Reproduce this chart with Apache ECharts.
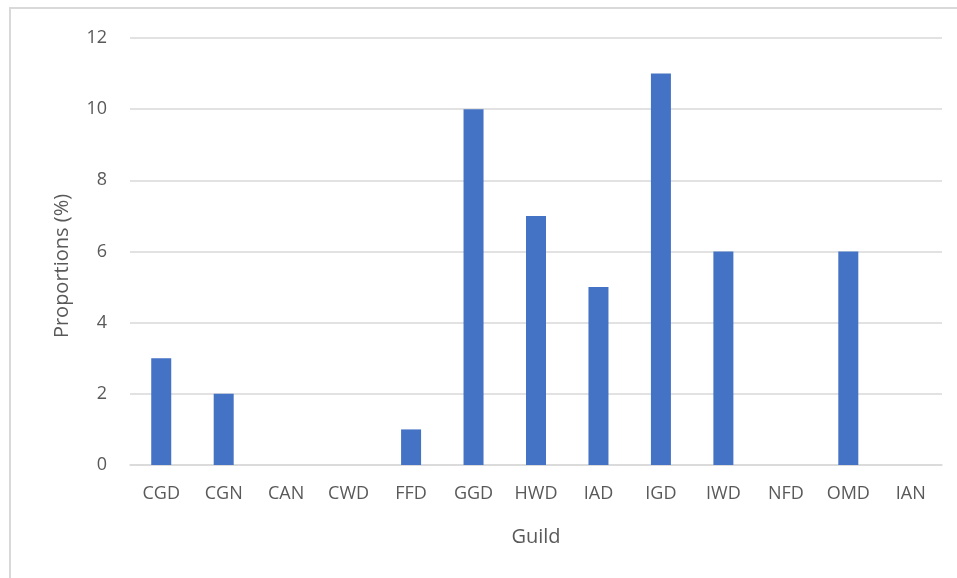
<!DOCTYPE html>
<html>
<head>
<meta charset="utf-8">
<script src="https://cdn.jsdelivr.net/npm/echarts@6/dist/echarts.min.js"></script>
<style>
  html, body { margin: 0; padding: 0; background: #fff; }
  #chart { width: 957px; height: 578px; }
</style>
</head>
<body>
<div id="chart"></div>
<script>
// Guild categories along the x axis
const guilds = ['CGD', 'CGN', 'CAN', 'CWD', 'FFD', 'GGD', 'HWD', 'IAD', 'IGD', 'IWD', 'NFD', 'OMD', 'IAN'];
// Proportion of each guild, in percent
const proportions = [3, 2, 0, 0, 1, 10, 7, 5, 11, 6, 0, 6, 0];

const textColor = '#595959';
const fontFamily = '"Open Sans", "Noto Sans", sans-serif';

const chart = echarts.init(document.getElementById('chart'), null, { renderer: 'canvas' });
chart.setOption({
  animation: false,
  backgroundColor: '#ffffff',
  graphic: [
    {
      // light frame around the chart area
      type: 'rect',
      shape: { x: 10, y: 8, width: 980, height: 600 },
      style: { fill: 'none', stroke: '#d9d9d9', lineWidth: 2 },
      silent: true
    },
    {
      // vertical axis title
      type: 'text',
      x: 62,
      y: 266,
      rotation: Math.PI / 2,
      style: {
        text: 'Proportions (%)',
        fill: textColor,
        font: '20px ' + fontFamily,
        align: 'center',
        verticalAlign: 'middle'
      },
      silent: true
    }
  ],
  grid: { left: 130, right: 15, top: 38, bottom: 113 },
  xAxis: {
    type: 'category',
    data: guilds,
    name: 'Guild',
    nameLocation: 'middle',
    nameGap: 62,
    nameTextStyle: { color: textColor, fontSize: 20, fontFamily },
    axisLine: { show: true, lineStyle: { color: '#d9d9d9', width: 1.5 } },
    axisTick: { show: false },
    axisLabel: { color: textColor, fontSize: 18, fontFamily, margin: 20 }
  },
  yAxis: {
    type: 'value',
    min: 0,
    max: 12,
    interval: 2,
    axisLine: { show: false },
    axisTick: { show: false },
    axisLabel: { color: textColor, fontSize: 18, fontFamily, margin: 23 },
    splitLine: { lineStyle: { color: '#d9d9d9', width: 1.5 } }
  },
  series: [{
    type: 'bar',
    data: proportions,
    barWidth: 20,
    itemStyle: { color: '#4472c4' }
  }]
});
</script>
</body>
</html>
